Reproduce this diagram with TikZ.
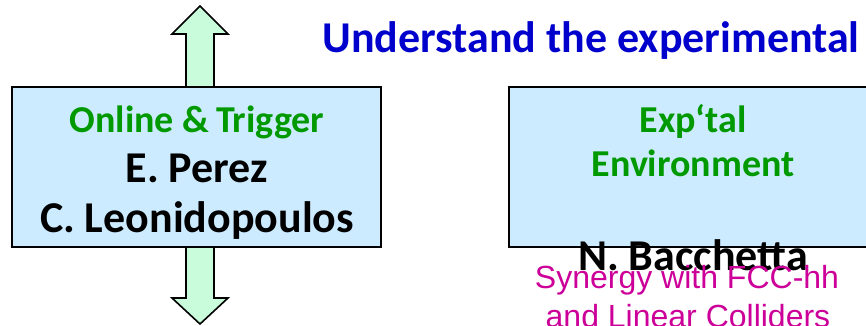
\documentclass[tikz,border=0pt]{standalone}
\usepackage{fontspec}
\setmainfont{Carlito}
\newfontfamily\arialf{Liberation Sans}
\definecolor{boxblue}{HTML}{CCEBFF}
\definecolor{arrowgreen}{HTML}{C8FCDA}
\definecolor{titleblue}{HTML}{0000CC}
\definecolor{txtgreen}{HTML}{009900}
\definecolor{magtxt}{HTML}{CC0099}
\tikzset{
  panel/.style={draw=black, line width=2pt, fill=boxblue},
  bigarrow/.style={draw=black, line width=1.6pt, fill=arrowgreen, line join=miter},
  txt/.style={inner sep=0pt, anchor=base},
  greentxt/.style={txt, text=txtgreen, font=\fontsize{38}{44}\selectfont\bfseries},
  nametxt/.style={txt, text=black, font=\fontsize{44}{50}\selectfont\bfseries},
  magtext/.style={txt, text=magtxt, font=\arialf\fontsize{32}{38}\selectfont},
}
\begin{document}
\begin{tikzpicture}[x=1pt,y=-1pt]
\useasboundingbox (0,0) rectangle (866,325);
% arrows
\draw[bigarrow] (186,89) -- (186,34) -- (172,34) -- (200,6) -- (228,34) -- (214,34) -- (214,89);
\draw[bigarrow] (186,245) -- (186,298) -- (172,298) -- (200,324) -- (228,298) -- (214,298) -- (214,245);
% boxes
\draw[panel] (12,87) rectangle (381,247);
\draw[panel] (509,87) rectangle (880,247);
% title
\node[txt, text=titleblue, font=\fontsize{44}{50}\selectfont\bfseries] (title) at (591,52) {Understand the experimental};
% left box
\node[greentxt] (online) at (197,132) {Online \&\kern-0.05em{} Trigger};
\node[nametxt] (perez) at (197,182) {E. Perez};
\node[nametxt] (leo) at (197,232) {C. Leonidopoulos};
% right box
\node[greentxt] (exp) at (693,132) {Exp‘tal};
\node[greentxt] (env) at (693,176) {Environment};
\node[nametxt] (bac) at (693,270) {N. Bacchetta};
\node[magtext] (syn) at (687,288) {Synergy with FCC-hh};
\node[magtext] (lin) at (688,327) {and Linear Colliders};
\end{tikzpicture}
\end{document}
